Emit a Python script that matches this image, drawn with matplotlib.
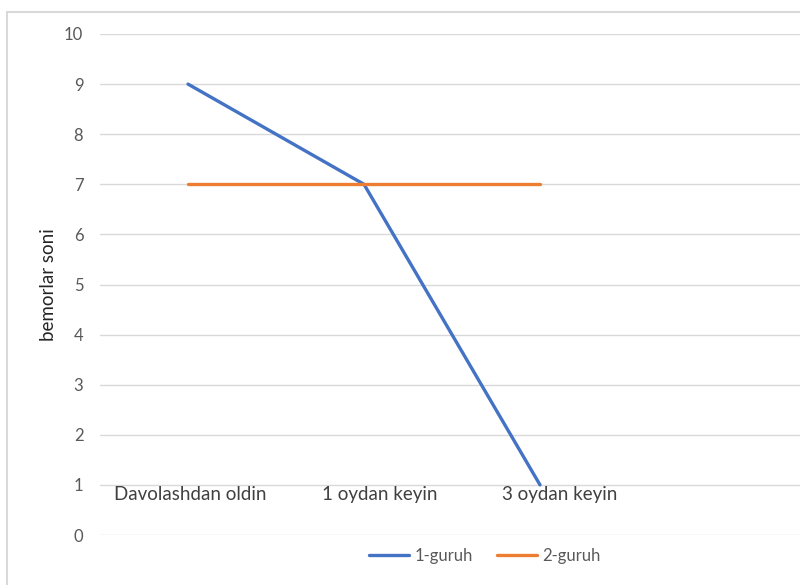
import matplotlib.pyplot as plt
from matplotlib.patches import Rectangle

plt.rcParams['font.family'] = ['Lato', 'DejaVu Sans']

categories = ["Davolashdan oldin", "1 oydan keyin", "3 oydan keyin", ""]
guruh1 = [9, 7, 1]
guruh2 = [7, 7, 7]
y_ticks = list(range(0, 11))

W, H = 800, 585
fig = plt.figure(figsize=(8, 5.85), dpi=100)

# chart border, cut off at the right and bottom like the screenshot
fig.patches.append(Rectangle((7 / W, 1 - 700 / H), 1.0, 688 / H, transform=fig.transFigure,
                             fill=False, edgecolor='#D9D9D9', linewidth=1.5))

ax = fig.add_axes([100 / W, 1 - 535 / H, 704 / W, 501 / H])
x = range(len(guruh1))
ax.plot(x, guruh1, color='#4472C4', linewidth=2.4, label='1-guruh', solid_capstyle='round')
ax.plot(x, guruh2, color='#ED7D31', linewidth=2.4, label='2-guruh', solid_capstyle='round')

ax.set_xlim(-0.5, len(categories) - 0.5)
ax.set_ylim(0, 10)
ax.set_yticks(y_ticks)
ax.set_xticks([])
ax.tick_params(axis='y', length=0, pad=12, labelsize=12, labelcolor='#595959')
ax.grid(axis='y', color='#D9D9D9', linewidth=1)
ax.set_axisbelow(True)
for s in ax.spines.values():
    s.set_visible(False)

ax.set_ylabel('bemorlar soni', fontsize=13.5, color='#262626', labelpad=5)

# category labels sit inside the plot, just under value 1
label_x = [0.01, 1.09, 2.11]
for lx, name in zip(label_x, categories):
    ax.text(lx, 0.8, name, ha='center', va='center', fontsize=13.5, color='#404040')

fig.legend(loc='center', bbox_to_anchor=(485 / W, 1 - 556 / H), ncol=2, frameon=False,
           fontsize=12, labelcolor='#595959', handlelength=2.4, columnspacing=1.5,
           handletextpad=0.3)

fig.savefig('out.png', dpi=100)
